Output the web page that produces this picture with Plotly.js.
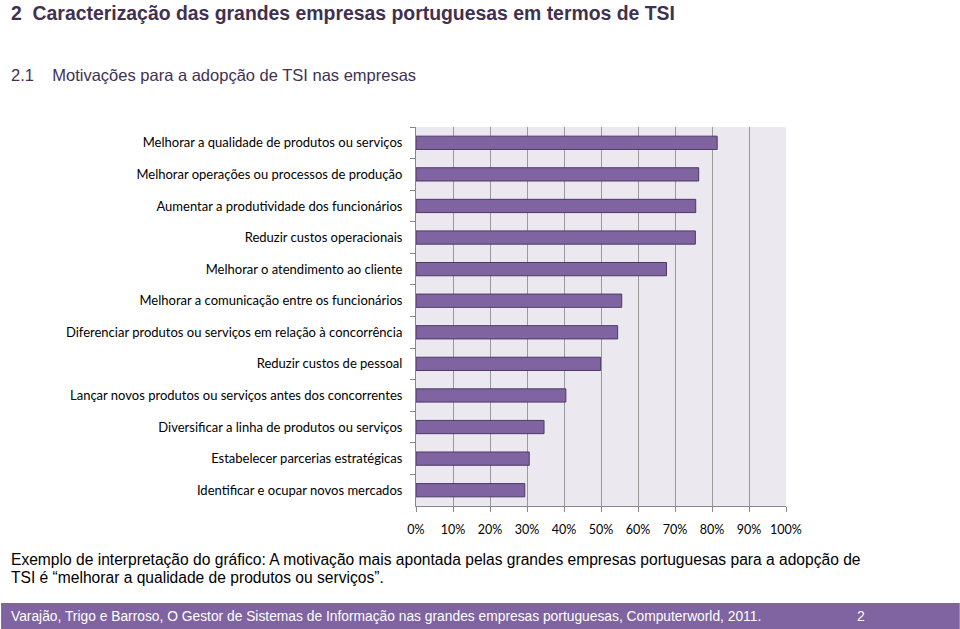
<!DOCTYPE html>
<html>
<head>
<meta charset="utf-8">
<script src="https://cdn.plot.ly/plotly-3.0.1.min.js"></script>
<style>
html,body{margin:0;padding:0;background:#fff;}
#chart{width:960px;height:629px;}
</style>
</head>
<body>
<div id="chart"></div>
<script>
const categories = [
  "Melhorar a qualidade de produtos ou serviços",
  "Melhorar operações ou processos de produção",
  "Aumentar a produtividade dos funcionários",
  "Reduzir custos operacionais",
  "Melhorar o atendimento ao cliente",
  "Melhorar a comunicação entre os funcionários",
  "Diferenciar produtos ou serviços em relação à concorrência",
  "Reduzir custos de pessoal",
  "Lançar novos produtos ou serviços antes dos concorrentes",
  "Diversificar a linha de produtos ou serviços",
  "Estabelecer parcerias estratégicas",
  "Identificar e ocupar novos mercados"
];
const values = [0.814, 0.764, 0.756, 0.755, 0.677, 0.556, 0.545, 0.499, 0.405, 0.346, 0.306, 0.294];
const tickVals = [0,0.1,0.2,0.3,0.4,0.5,0.6,0.7,0.8,0.9,1.0];
const tickLabels = ["0%","10%","20%","30%","40%","50%","60%","70%","80%","90%","100%"];
const titleText = "2&nbsp;&nbsp;Caracterização das grandes empresas portuguesas em termos de TSI";
const subtitleText = "2.1&nbsp;&nbsp;&nbsp;&nbsp;Motivações para a adopção de TSI nas empresas";
const noteLine1 = "Exemplo de interpretação do gráfico: A motivação mais apontada pelas grandes empresas portuguesas para a adopção de";
const noteLine2 = "TSI é “melhorar a qualidade de produtos ou serviços”.";
const footerText = "Varajão, Trigo e Barroso, O Gestor de Sistemas de Informação nas grandes empresas portuguesas, Computerworld, 2011.";
const pageNumber = "2";

const W = 960, H = 629;
const L = 415.5, R = 786, T = 127, B = 506;
const px = x => (x - L) / (R - L);
const py = y => (B - y) / (B - T);

const trace = {
  type: 'bar',
  orientation: 'h',
  y: categories,
  x: values,
  marker: {color: '#8064A2', line: {color: '#4B3A63', width: 1}},
  hoverinfo: 'none'
};

const sans = 'Liberation Sans, Arial, sans-serif';
const layout = {
  width: W, height: H,
  margin: {l: L, r: W - R, t: T, b: H - B, pad: 0},
  paper_bgcolor: '#ffffff',
  plot_bgcolor: '#EBE8EF',
  showlegend: false,
  bargap: 0.58,
  xaxis: {
    range: [0, 1],
    tickvals: tickVals,
    ticktext: tickLabels,
    ticks: 'outside', ticklen: 5, tickcolor: '#888888', tickwidth: 1,
    showline: true, linecolor: '#888888', linewidth: 1,
    showgrid: true, gridcolor: '#9A9A9A', gridwidth: 1,
    zeroline: false,
    ticklabelstandoff: 7,
    tickfont: {family: 'Lato, Open Sans, sans-serif', size: 12.5, color: '#000'},
    fixedrange: true
  },
  yaxis: {
    type: 'category',
    autorange: 'reversed',
    tickson: 'boundaries',
    ticks: 'outside', ticklen: 5, tickcolor: '#888888', tickwidth: 1,
    showline: true, linecolor: '#888888', linewidth: 1,
    showgrid: false, zeroline: false,
    ticklabelstandoff: 10,
    tickfont: {family: 'Lato, Open Sans, sans-serif', size: 13, color: '#000'},
    fixedrange: true
  },
  shapes: [
    {type: 'rect', xref: 'paper', yref: 'paper', x0: px(0), x1: px(W), y0: py(603), y1: py(H + 2),
     fillcolor: '#8064A2', line: {width: 0}, layer: 'below'}
  ],
  annotations: [
    {text: titleText, xref: 'paper', yref: 'paper', x: px(8), y: py(13), xanchor: 'left', yanchor: 'middle',
     showarrow: false, font: {family: sans, size: 19.4, color: '#3F3151', weight: 'bold'}},
    {text: subtitleText, xref: 'paper', yref: 'paper', x: px(8), y: py(75), xanchor: 'left', yanchor: 'middle',
     showarrow: false, font: {family: sans, size: 16.5, color: '#3F3151'}},
    {text: noteLine1, xref: 'paper', yref: 'paper', x: px(8), y: py(559), xanchor: 'left', yanchor: 'middle',
     showarrow: false, font: {family: sans, size: 15.6, color: '#000'}},
    {text: noteLine2, xref: 'paper', yref: 'paper', x: px(8), y: py(577), xanchor: 'left', yanchor: 'middle',
     showarrow: false, font: {family: sans, size: 15.6, color: '#000'}},
    {text: footerText, xref: 'paper', yref: 'paper', x: px(8), y: py(616), xanchor: 'left', yanchor: 'middle',
     showarrow: false, font: {family: sans, size: 13.8, color: '#fff'}},
    {text: pageNumber, xref: 'paper', yref: 'paper', x: px(861), y: py(616), xanchor: 'center', yanchor: 'middle',
     showarrow: false, font: {family: sans, size: 14, color: '#fff'}}
  ]
};

Plotly.newPlot('chart', [trace], layout, {displayModeBar: false, staticPlot: true});
</script>
</body>
</html>
